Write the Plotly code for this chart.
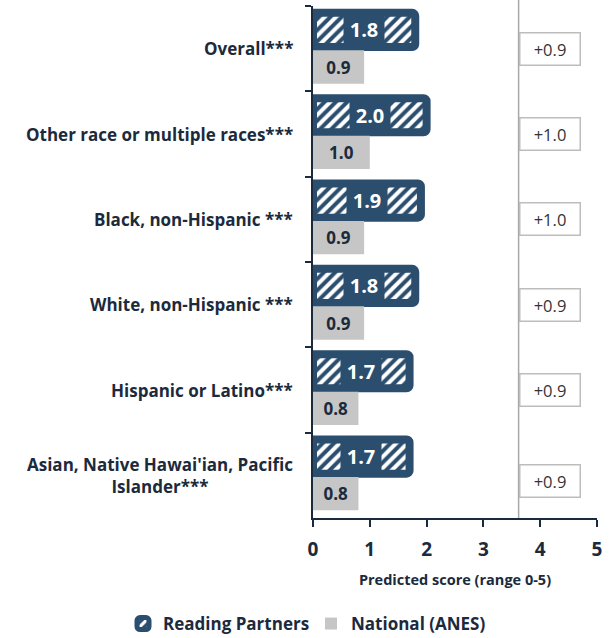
import plotly.graph_objects as go

# Subgroups, top to bottom
groups = [
    "Overall***",
    "Other race or multiple races***",
    "Black, non-Hispanic ***",
    "White, non-Hispanic ***",
    "Hispanic or Latino***",
    "Asian, Native Hawai'ian, Pacific<br>Islander***",
]
reading_partners = [1.8, 2.0, 1.9, 1.8, 1.7, 1.7]
national_anes = [0.9, 1.0, 0.9, 0.9, 0.8, 0.8]
differences = ["+0.9", "+1.0", "+1.0", "+0.9", "+0.9", "+0.9"]
x_ticks = [0, 1, 2, 3, 4, 5]

NAVY = "#2b4e6e"
GRAY = "#c6c6c6"
INK = "#1b2a3c"
FONT = "Open Sans"

fig = go.Figure()

fig.add_trace(go.Bar(
    name="Reading Partners",
    y=groups, x=reading_partners, orientation="h",
    offset=-0.42, width=0.40,
    marker=dict(
        color=NAVY,
        cornerradius=3,
        line=dict(color=NAVY, width=8),
        pattern=dict(shape="/", fgcolor="#ffffff", fgopacity=1, bgcolor=NAVY,
                     size=8, solidity=0.5),
    ),
    hoverinfo="skip",
))

fig.add_trace(go.Bar(
    name="National (ANES)",
    y=groups, x=national_anes, orientation="h",
    offset=0.02, width=0.39,
    marker=dict(color=GRAY, line=dict(width=0)),
    text=[f"{v:.1f}" for v in national_anes],
    textposition="inside", insidetextanchor="middle", textangle=0,
    constraintext="none",
    textfont=dict(family=FONT, size=17, color=INK, weight="bold"),
    hoverinfo="skip",
))

annotations = []
for i, (g, rp, d) in enumerate(zip(groups, reading_partners, differences)):
    # value label on the hatched bar, on a solid navy patch
    annotations.append(dict(
        x=rp / 2, y=g, xref="x", yref="y", yshift=19,
        text=f"<b>{rp:.1f}</b>", showarrow=False,
        font=dict(family=FONT, size=20, color="white"),
        bgcolor=NAVY, borderpad=5, width=30,
    ))
    # group label on the left
    annotations.append(dict(
        x=-0.063, y=g, xref="paper", yref="y",
        xanchor="right", align="center",
        text=f"<b>{g}</b>", showarrow=False,
        font=dict(family=FONT, size=17, color=INK),
    ))
    # difference box on the right
    annotations.append(dict(
        x=4.18, y=g, xref="x", yref="y",
        yshift=-6 if i == len(groups) - 1 else 0,
        text=d, showarrow=False,
        font=dict(family=FONT, size=16.5, color="#333333"),
        bgcolor="white", bordercolor="#bdbdbd", borderwidth=1.5,
        width=57, height=29,
    ))

fig.update_layout(
    width=613, height=638,
    margin=dict(l=313, r=16, t=6, b=120, autoexpand=False),
    plot_bgcolor="white", paper_bgcolor="white",
    barmode="overlay",
    showlegend=True,
    legend=dict(
        orientation="h", x=-0.669, xanchor="left", y=-0.207, yanchor="middle",
        font=dict(family=FONT, size=17, color=INK, weight="bold"),
        entrywidth=143, tracegroupgap=0,
    ),
    annotations=annotations,
    shapes=[dict(
        type="line", xref="x", yref="paper",
        x0=3.62, x1=3.62, y0=0, y1=1.012,
        line=dict(color="#a8a8a8", width=1.5),
    )],
    font=dict(family=FONT, color=INK),
)

fig.update_xaxes(
    range=[0, 5], tickvals=x_ticks,
    showgrid=False, zeroline=False,
    showline=True, linecolor=INK, linewidth=2,
    ticks="outside", ticklen=7, tickwidth=2, tickcolor=INK,
    ticklabelstandoff=6,
    tickfont=dict(family=FONT, size=19, color=INK, weight="bold"),
    title=dict(text="<b>Predicted score (range 0-5)</b>",
               font=dict(family=FONT, size=14.5, color=INK), standoff=14),
)

fig.update_yaxes(
    type="category", categoryorder="array", categoryarray=groups,
    autorange="reversed",
    showticklabels=False, showgrid=False, zeroline=False,
    showline=True, linecolor=INK, linewidth=2,
    ticks="outside", ticklen=6, tickwidth=2, tickcolor=INK, tickson="boundaries",
)

fig.write_html("out.html")
